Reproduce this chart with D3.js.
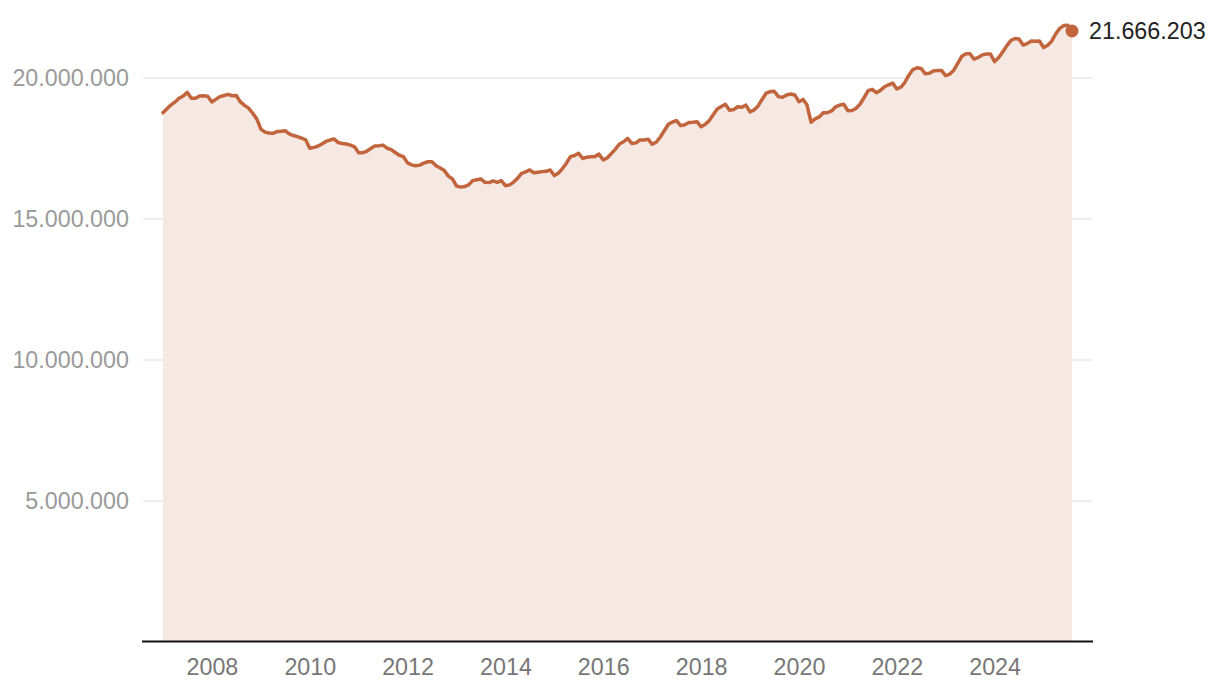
<!DOCTYPE html>
<html><head><meta charset="utf-8">
<script src="https://cdn.jsdelivr.net/npm/d3@7"></script>
<style>body{margin:0;background:#fff}svg{display:block}text{font-family:"Liberation Sans",Arial,Helvetica,sans-serif}</style>
</head><body><svg id="c" width="1220" height="688"></svg>
<script>
const startMonth = "2007-01";
const values = [
18.77,18.92,19.04,19.15,19.28,19.36,19.49,19.28,19.28,19.36,19.37,19.35,
19.15,19.25,19.34,19.38,19.42,19.37,19.38,19.15,19.03,18.93,18.75,18.55,
18.19,18.08,18.05,18.04,18.10,18.11,18.13,18.02,17.96,17.92,17.87,17.81,
17.51,17.54,17.58,17.66,17.75,17.80,17.84,17.71,17.68,17.66,17.62,17.56,
17.35,17.35,17.40,17.50,17.59,17.60,17.62,17.51,17.46,17.36,17.26,17.21,
16.99,16.92,16.89,16.91,16.98,17.03,17.03,16.89,16.81,16.72,16.52,16.42,
16.17,16.13,16.15,16.21,16.36,16.39,16.42,16.30,16.29,16.35,16.30,16.36,
16.18,16.21,16.30,16.44,16.62,16.67,16.74,16.64,16.66,16.68,16.69,16.74,
16.54,16.63,16.78,16.98,17.21,17.25,17.33,17.15,17.19,17.21,17.22,17.30,
17.09,17.17,17.32,17.48,17.66,17.74,17.86,17.68,17.70,17.80,17.80,17.83,
17.65,17.73,17.90,18.13,18.36,18.44,18.49,18.31,18.34,18.42,18.43,18.45,
18.27,18.36,18.48,18.70,18.90,18.99,19.07,18.86,18.88,18.98,18.96,19.04,
18.80,18.87,19.00,19.24,19.46,19.52,19.53,19.34,19.32,19.40,19.43,19.40,
19.16,19.24,19.05,18.43,18.55,18.62,18.77,18.77,18.83,18.98,19.04,19.07,
18.84,18.85,18.92,19.07,19.30,19.55,19.60,19.48,19.56,19.69,19.76,19.82,
19.61,19.68,19.84,20.10,20.30,20.36,20.34,20.15,20.17,20.25,20.27,20.27,
20.08,20.14,20.27,20.52,20.77,20.86,20.86,20.67,20.73,20.82,20.85,20.85,
20.58,20.73,20.92,21.14,21.33,21.40,21.38,21.17,21.22,21.31,21.30,21.31,
21.08,21.16,21.30,21.56,21.76,21.86,21.87,21.666203
];
const yTicks = [5000000, 10000000, 15000000, 20000000];
const xTickYears = [2008,2010,2012,2014,2016,2018,2020,2022,2024];
const lastLabel = "21.666.203";

const parse = d3.timeParse("%Y-%m");
const t0 = parse(startMonth);
const data = values.map((v,i)=>({date:d3.timeMonth.offset(t0,i), value:v*1e6}));

const svg = d3.select("#c");
const x = d3.scaleTime().domain([data[0].date, data[data.length-1].date]).range([163,1072]);
const y = d3.scaleLinear().domain([0,25000000]).range([642, 642-25*28.2]);

const fmt = v => d3.format(",")(v).replace(/,/g,".");

// grid
const g = svg.append("g");
g.selectAll("line.grid").data(yTicks).join("line")
  .attr("x1",143).attr("x2",1092).attr("y1",d=>y(d)).attr("y2",d=>y(d))
  .attr("stroke","#dddddd").attr("stroke-width",1.2);

// area
svg.append("path").datum(data)
  .attr("fill","#f5e7e2").attr("fill-opacity",0.95)
  .attr("d", d3.area().x(d=>x(d.date)).y0(y(0)).y1(d=>y(d.value)));

// line
svg.append("path").datum(data)
  .attr("fill","none").attr("stroke","#c2653c").attr("stroke-width",3.5)
  .attr("stroke-linejoin","round").attr("stroke-linecap","round")
  .attr("d", d3.line().x(d=>x(d.date)).y(d=>y(d.value)));

// y labels
svg.selectAll("text.yl").data(yTicks).join("text")
  .attr("x",129).attr("y",d=>y(d)).attr("text-anchor","end").attr("dominant-baseline","central")
  .attr("fill","#9a9a9a").attr("font-size",23.3).text(d=>fmt(d));

// x axis
const xAxis = d3.axisBottom(x).tickValues(xTickYears.map(yr=>new Date(yr,0,1)))
  .tickFormat(d3.timeFormat("%Y")).tickSize(0).tickPadding(16);
const ax = svg.append("g").attr("transform","translate(0,642)").call(xAxis);
ax.select(".domain").remove();
ax.selectAll("text").attr("fill","#777").attr("font-size",23.3)
  .attr("font-family","'Liberation Sans',Arial,sans-serif");
svg.append("line").attr("x1",142).attr("x2",1093).attr("y1",641.5).attr("y2",641.5)
  .attr("stroke","#111").attr("stroke-width",2);

// end point
const last = data[data.length-1];
svg.append("circle").attr("cx",x(last.date)).attr("cy",y(last.value)).attr("r",6.5).attr("fill","#c2653c");
svg.append("text").attr("x",x(last.date)+17).attr("y",y(last.value)).attr("dominant-baseline","central")
  .attr("fill","#222").attr("font-size",23.3).text(lastLabel);
</script></body></html>
